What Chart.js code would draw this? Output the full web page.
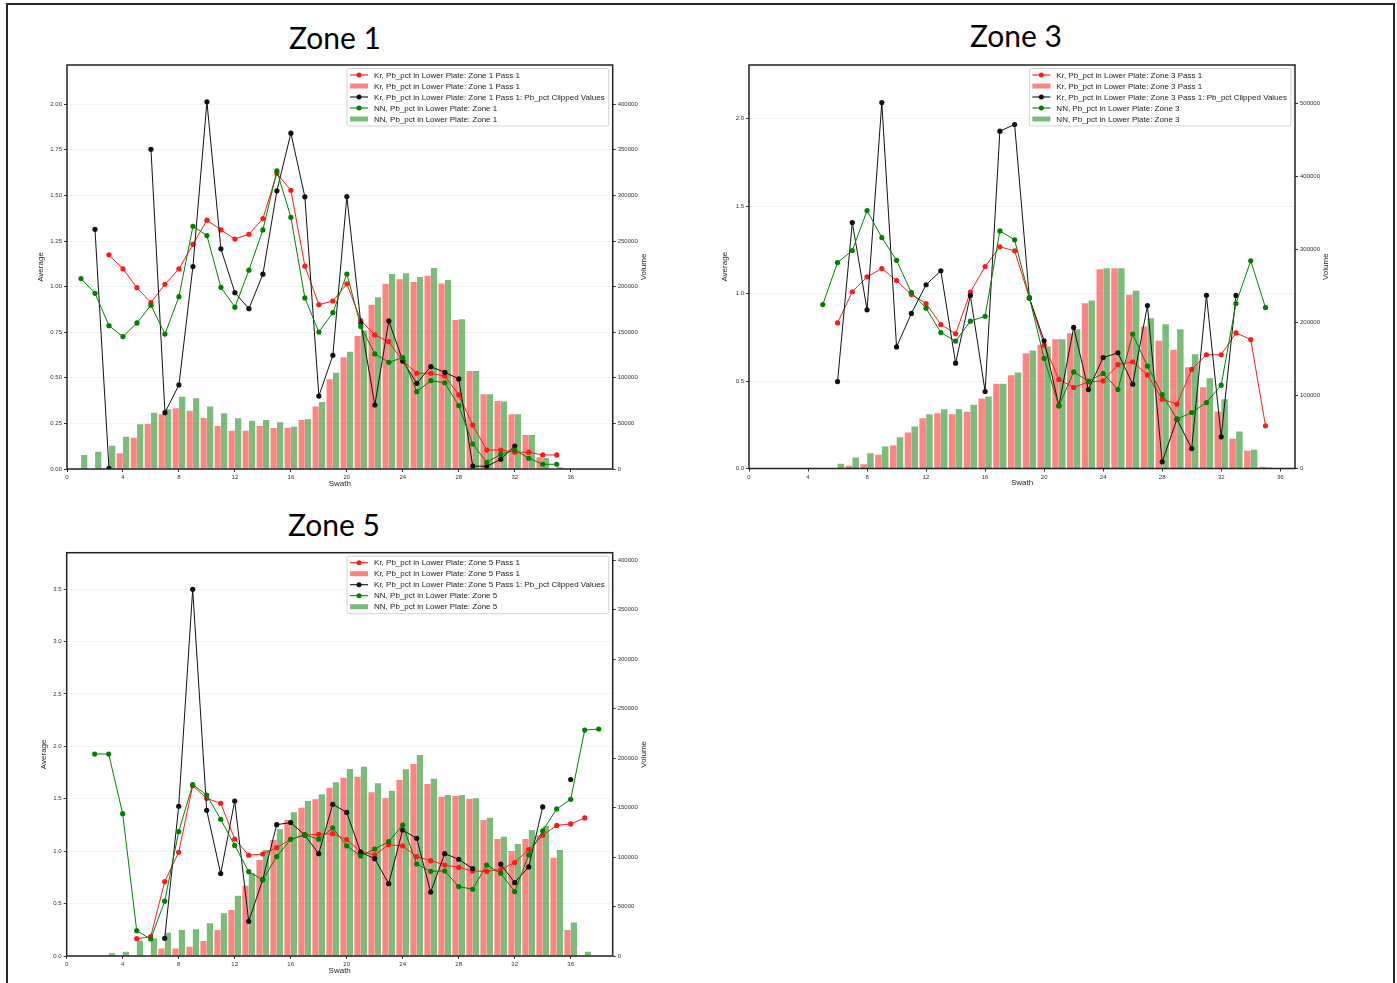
<!DOCTYPE html>
<html>
<head>
<meta charset="utf-8">
<script src="https://cdn.jsdelivr.net/npm/chart.js@4.4.1/dist/chart.umd.min.js"></script>
<style>
  html, body { margin: 0; padding: 0; background: #fff; width: 1397px; height: 983px; overflow: hidden; }
  .sheet { position: absolute; left: 6px; top: 3px; width: 1389px; height: 1000px; border: 2px solid #23282c; box-sizing: border-box; }
  .panel { position: absolute; }
  .zone-title { position: absolute; font-family: Lato, 'Liberation Sans', sans-serif; font-size: 30px; line-height: 30px; color: #000; transform: translateX(-50%); white-space: nowrap; }
</style>
</head>
<body>
<div class="sheet"></div>
<div class="zone-title" style="left:335px; top:22px;">Zone 1</div>
<div class="zone-title" style="left:1016px; top:20px;">Zone 3</div>
<div class="zone-title" style="left:334px; top:509px;">Zone 5</div>
<div class="panel" id="p1" style="left:0px; top:0px; width:690px; height:500px;"><canvas id="c1"></canvas></div>
<div class="panel" id="p3" style="left:690px; top:0px; width:707px; height:500px;"><canvas id="c3"></canvas></div>
<div class="panel" id="p5" style="left:0px; top:500px; width:690px; height:483px;"><canvas id="c5"></canvas></div>
<script>
// ---------- Zone 1 ----------
const z1Swath = [1,2,3,4,5,6,7,8,9,10,11,12,13,14,15,16,17,18,19,20,21,22,23,24,25,26,27,28,29,30,31,32,33,34,35];
const z1Kr = [null,null,1.174,1.097,0.994,0.912,1.013,1.097,1.232,1.364,1.311,1.261,1.287,1.373,1.620,1.528,1.112,0.901,0.921,1.015,0.814,0.735,0.698,0.592,0.525,0.525,0.510,0.406,0.241,0.104,0.104,0.092,0.092,0.077,0.077];
const z1Clipped = [null,1.314,0.004,null,null,1.753,0.309,0.461,1.110,2.013,1.207,0.967,0.879,1.068,1.525,1.841,1.492,0.400,0.623,1.494,0.800,0.351,0.812,0.592,0.470,0.561,0.530,0.494,0.016,0.015,0.053,0.126,null,null,null];
const z1NN = [1.044,0.963,0.786,0.726,0.801,0.898,0.740,0.945,1.331,1.280,0.996,0.887,1.090,1.311,1.634,1.380,0.938,0.751,0.857,1.069,0.781,0.631,0.585,0.611,0.424,0.484,0.473,0.347,0.137,0.037,0.080,0.104,0.059,0.026,0.026];
const z1KrVol = [0,0,0,17200,34400,49400,60000,66500,64000,56000,47200,42000,42000,47200,45000,45300,53700,68400,98300,122500,145900,180000,203000,208000,205100,212000,203300,163400,107500,81900,74600,60000,37300,13000,0];
const z1NNVol = [15400,19000,25600,35500,49000,61800,65400,79300,77500,68400,61000,55600,53000,53700,51200,46400,54500,73500,105600,128700,152000,188300,213900,214600,210600,220500,207300,164200,107500,81900,73900,60000,37300,12000,2000];
const z1AverageTicks = [0, 0.25, 0.5, 0.75, 1.0, 1.25, 1.5, 1.75, 2.0];
const z1VolumeTicks = [0, 50000, 100000, 150000, 200000, 250000, 300000, 350000, 400000];

// ---------- Zone 3 ----------
const z3Swath = [5,6,7,8,9,10,11,12,13,14,15,16,17,18,19,20,21,22,23,24,25,26,27,28,29,30,31,32,33,34,35];
const z3Kr = [null,0.832,1.010,1.095,1.143,1.074,0.994,0.943,0.823,0.770,1.008,1.154,1.267,1.244,0.975,0.705,0.509,0.463,0.495,0.501,0.594,0.610,0.535,0.396,0.368,0.566,0.650,0.650,0.775,0.737,0.244];
const z3Clipped = [null,0.497,1.406,0.907,2.091,0.695,0.886,1.050,1.130,0.602,0.989,0.440,1.928,1.966,0.975,0.730,0.358,0.806,0.451,0.634,0.661,0.482,0.931,0.038,0.282,0.114,0.990,0.181,0.989,null,null];
const z3NN = [0.937,1.177,1.246,1.474,1.320,1.190,1.006,0.916,0.777,0.728,0.842,0.870,1.358,1.307,0.977,0.629,0.358,0.552,0.499,0.543,0.451,0.768,0.585,0.423,0.282,0.320,0.377,0.476,0.943,1.187,0.920];
const z3KrVol = [0,0,3700,5900,18700,31500,49300,68900,75800,74400,77600,95900,116000,127800,158000,169400,177200,185400,226500,273000,274400,237900,194500,174900,162500,138800,111400,78100,40600,24200,2300];
const z3NNVol = [0,6400,15000,21000,30100,42900,57500,74400,81300,81300,87200,98600,116000,131500,161600,167100,177200,190900,230100,274400,274400,243400,205900,197700,190900,156600,123700,95000,50700,25600,1400];
const z3AverageTicks = [0, 0.5, 1.0, 1.5, 2.0];
const z3VolumeTicks = [0, 100000, 200000, 300000, 400000, 500000];

// ---------- Zone 5 ----------
const z5Swath = [2,3,4,5,6,7,8,9,10,11,12,13,14,15,16,17,18,19,20,21,22,23,24,25,26,27,28,29,30,31,32,33,34,35,36,37,38];
const z5Kr = [null,null,null,0.165,0.184,0.709,0.990,1.624,1.504,1.457,1.116,0.962,0.973,1.034,1.114,1.155,1.161,1.167,1.110,0.996,0.964,1.062,1.050,0.948,0.910,0.868,0.846,0.810,0.808,0.824,0.892,1.015,1.152,1.246,1.260,1.317,null];
const z5Clipped = [null,null,null,null,null,0.169,1.428,3.499,1.390,0.786,1.479,0.331,0.728,1.253,1.273,1.155,0.976,1.448,1.370,0.990,0.929,0.690,1.202,1.123,0.610,0.976,0.923,0.834,null,0.876,0.700,0.850,1.422,null,1.684,null,null];
const z5NN = [1.927,1.927,1.358,0.242,0.162,0.523,1.186,1.635,1.536,1.305,1.055,0.805,0.727,0.948,1.113,1.155,1.115,1.222,1.051,0.954,1.021,1.091,1.249,0.878,0.808,0.811,0.662,0.637,0.868,0.789,0.614,0.964,1.195,1.403,1.495,2.156,2.166];
const z5KrVol = [0,0,0,0,0,7700,7700,9400,15200,26300,46500,71000,97000,117200,137400,149800,158300,170000,180100,181100,165300,159300,177800,193900,173700,160900,161600,158600,137400,118200,106100,118200,122000,99300,26300,0,0];
const z5NNVol = [0,2700,4400,15200,18000,23600,26300,26900,33000,43100,60900,83500,107100,128000,145100,156600,163300,175400,188800,191300,174400,167000,188600,203000,179100,162600,162600,159300,139700,120500,113100,127300,131300,107100,33900,4400,0];
const z5AverageTicks = [0, 0.5, 1.0, 1.5, 2.0, 2.5, 3.0, 3.5];
const z5VolumeTicks = [0, 50000, 100000, 150000, 200000, 250000, 300000, 350000, 400000];

// Swath ticks shared by all zones
const swathTicks = [0, 4, 8, 12, 16, 20, 24, 28, 32, 36];

// Axis ranges per zone
const z1Axes = { xMax: 39, yMax: 2.215, yDecimals: 2, volMax: 443000, avgTicks: z1AverageTicks, volTicks: z1VolumeTicks };
const z3Axes = { xMax: 37.0, yMax: 2.306, yDecimals: 1, volMax: 552700, avgTicks: z3AverageTicks, volTicks: z3VolumeTicks };
const z5Axes = { xMax: 39, yMax: 3.848, yDecimals: 1, volMax: 407400, avgTicks: z5AverageTicks, volTicks: z5VolumeTicks };

const FONT = "'Liberation Sans', Arial, sans-serif";
const RED = '#ff1a1a', BLACK = '#111111', GREEN = '#008000';
const RED_BAR = 'rgba(255, 0, 0, 0.48)', GREEN_BAR = 'rgba(0, 128, 0, 0.52)';

function points(xs, ys) { return xs.map((x, i) => ({ x: x, y: ys[i] })); }
function fixedTicks(values) { return scale => { scale.ticks = values.map(v => ({ value: v })); }; }

// Frame around the plot area, bottom-to-top right axis title and the inset legend
const panelDecor = {
  id: 'panelDecor',
  afterDraw(chart, args, opts) {
    const ctx = chart.ctx, a = chart.chartArea;
    ctx.save();
    ctx.strokeStyle = '#222';
    ctx.lineWidth = 1.5;
    ctx.strokeRect(a.left, a.top, a.right - a.left, a.bottom - a.top);

    ctx.save();
    ctx.translate(a.right + 31, (a.top + a.bottom) / 2);
    ctx.rotate(-Math.PI / 2);
    ctx.font = '8px ' + FONT;
    ctx.fillStyle = '#222';
    ctx.textAlign = 'center';
    ctx.textBaseline = 'middle';
    ctx.fillText(opts.rightTitle, 0, 0);
    ctx.restore();

    // legend
    const items = chart.data.datasets;
    ctx.font = '8px ' + FONT;
    let textW = 0;
    items.forEach(d => { textW = Math.max(textW, ctx.measureText(d.label).width); });
    const padL = 3, handleW = 18, gap = 6, padR = 4, rowH = 11;
    const boxW = padL + handleW + gap + textW + padR;
    const right = a.right - 4;
    const left = right - boxW;
    const top = a.top + 3.5;
    const boxH = 6.5 + rowH * (items.length - 1) + 7;
    ctx.fillStyle = 'rgba(255,255,255,0.85)';
    ctx.strokeStyle = '#d4d4d4';
    ctx.lineWidth = 1;
    ctx.beginPath();
    ctx.roundRect(left, top, boxW, boxH, 2);
    ctx.fill();
    ctx.stroke();
    items.forEach((d, i) => {
      const cy = top + 6.5 + i * rowH;
      const hx = left + padL;
      if (d.type === 'bar') {
        ctx.fillStyle = d.backgroundColor;
        ctx.fillRect(hx, cy - 2.5, handleW, 5);
      } else {
        ctx.strokeStyle = d.borderColor;
        ctx.lineWidth = 1.1;
        ctx.beginPath();
        ctx.moveTo(hx, cy);
        ctx.lineTo(hx + handleW, cy);
        ctx.stroke();
        ctx.fillStyle = d.borderColor;
        ctx.beginPath();
        ctx.arc(hx + handleW / 2, cy, 2.5, 0, Math.PI * 2);
        ctx.fill();
      }
      ctx.fillStyle = '#222';
      ctx.textAlign = 'left';
      ctx.textBaseline = 'middle';
      ctx.fillText(d.label, hx + handleW + gap, cy + 0.5);
    });
    ctx.restore();
  }
};

function lineSet(label, xs, ys, color, order) {
  return {
    type: 'line', label: label, data: points(xs, ys), yAxisID: 'y', order: order,
    borderColor: color, backgroundColor: color, borderWidth: 1,
    pointRadius: 2.6, pointBorderWidth: 0, pointHoverRadius: 0, tension: 0, fill: false, spanGaps: false
  };
}
function barSet(label, xs, ys, color) {
  return {
    type: 'bar', label: label, data: points(xs, ys), yAxisID: 'y2', order: 10,
    backgroundColor: color, borderWidth: 0, categoryPercentage: 0.92, barPercentage: 0.96
  };
}

function makePanel(canvasId, zone, swath, kr, krVol, clipped, nn, nnVol, axes, geo) {
  const krLabel = 'Kr, Pb_pct in Lower Plate: Zone ' + zone + ' Pass 1';
  const nnLabel = 'NN, Pb_pct in Lower Plate: Zone ' + zone;
  const tickFont = { family: FONT, size: 6 };
  const titleFont = { family: FONT, size: 8 };
  return new Chart(document.getElementById(canvasId), {
    type: 'line',
    data: {
      datasets: [
        lineSet(krLabel, swath, kr, RED, 3),
        barSet(krLabel, swath, krVol, RED_BAR),
        lineSet(krLabel + ': Pb_pct Clipped Values', swath, clipped, BLACK, 2),
        lineSet(nnLabel, swath, nn, GREEN, 1),
        barSet(nnLabel, swath, nnVol, GREEN_BAR)
      ]
    },
    options: {
      responsive: true, maintainAspectRatio: false, animation: false, devicePixelRatio: 1, events: [],
      layout: { padding: geo.padding },
      plugins: { legend: { display: false }, tooltip: { enabled: false }, panelDecor: { rightTitle: 'Volume' } },
      scales: {
        x: {
          type: 'linear', position: 'bottom', min: 0, max: axes.xMax, offset: false,
          afterBuildTicks: fixedTicks(swathTicks),
          ticks: { font: tickFont, color: '#333', padding: 2, maxRotation: 0, autoSkip: false,
                   callback: v => String(v) },
          grid: { display: true, drawOnChartArea: false, tickLength: 3, tickColor: '#333', offset: false },
          border: { display: false },
          title: { display: true, text: 'Swath', font: titleFont, color: '#222', padding: { top: 0, bottom: 4 } },
          afterFit(s) { s.height = 23.5; }
        },
        y: {
          type: 'linear', position: 'left', min: 0, max: axes.yMax,
          afterBuildTicks: fixedTicks(axes.avgTicks),
          ticks: { font: tickFont, color: '#333', padding: 2, autoSkip: false,
                   callback: v => v.toFixed(axes.yDecimals) },
          grid: { color: 'rgba(0,0,0,0.045)', tickLength: 3, tickColor: '#333' },
          border: { display: false },
          title: { display: true, text: 'Average', font: titleFont, color: '#222', padding: { top: 4, bottom: 0 } },
          afterFit(s) { s.width = geo.leftWidth; }
        },
        y2: {
          type: 'linear', position: 'right', min: 0, max: axes.volMax,
          afterBuildTicks: fixedTicks(axes.volTicks),
          ticks: { font: tickFont, color: '#333', padding: 2, autoSkip: false,
                   callback: v => String(Math.round(v)) },
          grid: { display: true, drawOnChartArea: false, tickLength: 3, tickColor: '#333' },
          border: { display: false },
          afterFit(s) { s.width = 40; }
        }
      }
    },
    plugins: [panelDecor]
  });
}

makePanel('c1', 1, z1Swath, z1Kr, z1KrVol, z1Clipped, z1NN, z1NNVol, z1Axes,
  { leftWidth: 34.8, padding: { left: 32.2, top: 65, right: 690 - 612.7 - 40, bottom: 500 - 469 - 23.5 } });
makePanel('c3', 3, z3Swath, z3Kr, z3KrVol, z3Clipped, z3NN, z3NNVol, z3Axes,
  { leftWidth: 32.8, padding: { left: 26.2, top: 65, right: 707 - 605 - 40, bottom: 500 - 468.5 - 23.5 } });
makePanel('c5', 5, z5Swath, z5Kr, z5KrVol, z5Clipped, z5NN, z5NNVol, z5Axes,
  { leftWidth: 32.2, padding: { left: 34.5, top: 52.7, right: 690 - 612.7 - 40, bottom: 483 - 456 - 23.5 } });
</script>
</body>
</html>
